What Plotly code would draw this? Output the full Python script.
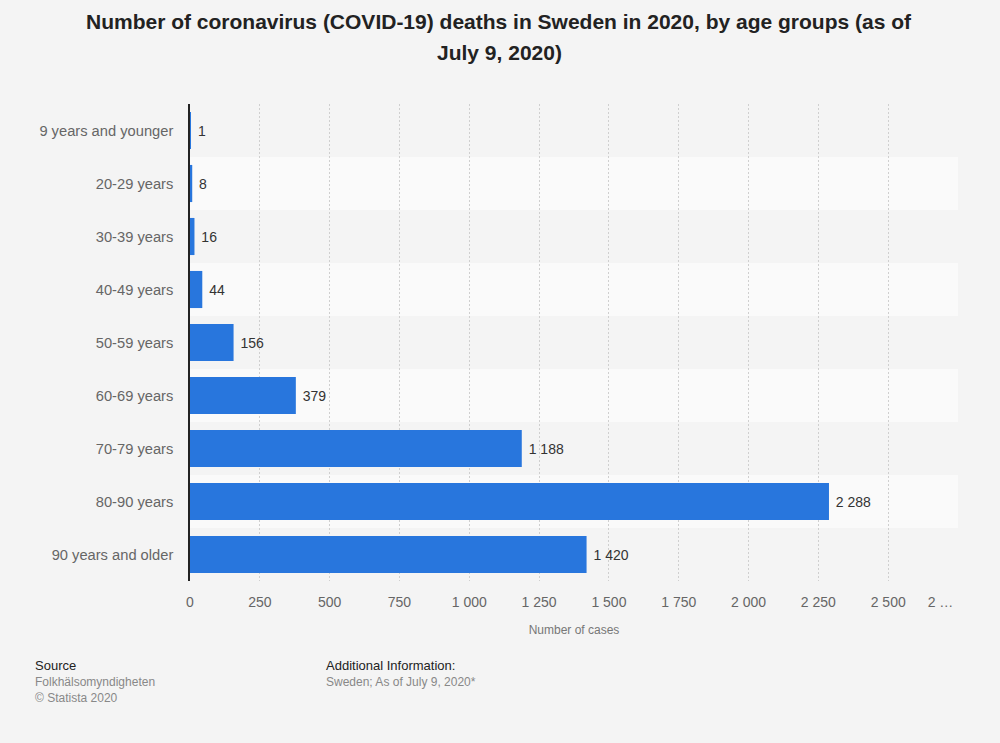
import plotly.graph_objects as go

# data
age_groups = ["9 years and younger", "20-29 years", "30-39 years", "40-49 years", "50-59 years",
              "60-69 years", "70-79 years", "80-90 years", "90 years and older"]
deaths = [1, 8, 16, 44, 156, 379, 1188, 2288, 1420]
tick_vals = [0, 250, 500, 750, 1000, 1250, 1500, 1750, 2000, 2250, 2500, 2750]
tick_text = ["0", "250", "500", "750", "1 000", "1 250", "1 500", "1 750", "2 000", "2 250", "2 500",
             "2 …" + "\u00a0" * 9]
title_lines = ["Number of coronavirus (COVID-19) deaths in Sweden in 2020, by age groups (as of",
               "July 9, 2020)"]

bar_labels = ["\u00a0" + "{:,}".format(v).replace(",", " ") for v in deaths]

fig = go.Figure(go.Bar(
    x=deaths, y=age_groups, orientation="h",
    marker=dict(color="#2876dd", line=dict(width=0)),
    width=0.7,
    text=bar_labels, textposition="outside", cliponaxis=False,
    textfont=dict(color="#333333", size=14),
))

# alternating row bands
shapes = []
for i in range(len(age_groups)):
    if i % 2 == 1:
        shapes.append(dict(type="rect", xref="paper", yref="y", x0=0, x1=1,
                           y0=i - 0.5, y1=i + 0.5, fillcolor="#fafafa",
                           line=dict(width=0), layer="below"))

W, H = 1000, 743
ML, MR, MT, MB = 190, 40, 104, 162
pw, ph = W - ML - MR, H - MT - MB


def px(x, y):
    # pixel position -> paper coords
    return (x - ML) / pw, (H - MB - y) / ph


ann = []
# title, one annotation per line to get the spacing
for k, line in enumerate(title_lines):
    ax, ay = px(500, 22 + 30 * k)
    ann.append(dict(text="<b>" + line + "</b>", x=ax, y=ay, xref="paper", yref="paper",
                    xanchor="center", yanchor="middle", showarrow=False,
                    font=dict(size=21, color="#222222")))

footer = [
    ("Source", 33, 665, 13, "#222222"),
    ("Folkhälsomyndigheten", 33, 682, 12, "#888888"),
    ("© Statista 2020", 33, 698, 12, "#888888"),
    ("Additional Information:", 324, 665, 13, "#222222"),
    ("Sweden; As of July 9, 2020*", 324, 682, 12, "#888888"),
]
for txt, x, y, s, c in footer:
    ax, ay = px(x, y)
    ann.append(dict(text=txt, x=ax, y=ay, xref="paper", yref="paper", xanchor="left",
                    yanchor="middle", showarrow=False, font=dict(size=s, color=c)))

fig.update_layout(
    width=W, height=H,
    paper_bgcolor="#f4f4f4", plot_bgcolor="#f4f4f4",
    font=dict(family="Liberation Sans, Arial, sans-serif", color="#666666"),
    margin=dict(l=ML, r=MR, t=MT, b=MB),
    showlegend=False,
    shapes=shapes,
    annotations=ann,
    xaxis=dict(
        range=[0, 2750], tickvals=tick_vals, ticktext=tick_text,
        showgrid=True, gridcolor="#cfcfcf", griddash="2px,2px", gridwidth=1,
        zeroline=False, showline=False,
        ticks="outside", ticklen=8, tickcolor="#f4f4f4",
        tickfont=dict(size=14, color="#666666"),
        title=dict(text="Number of cases", font=dict(size=12, color="#777777"), standoff=16),
    ),
    yaxis=dict(
        autorange="reversed", showgrid=False, zeroline=False,
        showline=True, linecolor="#222222", linewidth=1.5,
        ticks="outside", ticklen=12, tickcolor="rgba(0,0,0,0)",
        tickfont=dict(size=14.7, color="#666666"),
    ),
)

fig.write_html("out.html", config=dict(displayModeBar=False),
               post_script="document.body.style.margin='0';")
